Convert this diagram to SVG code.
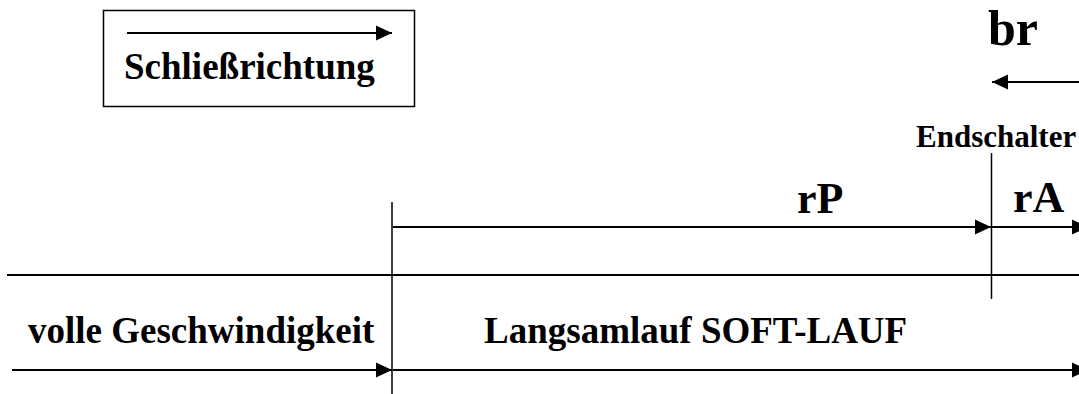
<svg xmlns="http://www.w3.org/2000/svg" width="1079" height="394" viewBox="0 0 1079 394">
<style>
.t{font-family:"Liberation Serif","Times New Roman",serif;font-weight:bold;fill:#000}
.ln{stroke:#000;stroke-width:2;fill:none}
.thin{stroke:#000;stroke-width:1.5;fill:none}
</style>
<defs>
<marker id="ah" markerUnits="userSpaceOnUse" markerWidth="16" markerHeight="16" refX="16" refY="8" orient="auto">
<path d="M0,0.5 L16,8 L0,15.5 Z" fill="#000"/>
</marker>
</defs>
<g id="legend">
<rect x="103.5" y="10.5" width="311" height="96" fill="none" stroke="#000" stroke-width="1.5"/>
<line class="ln" x1="127" y1="33" x2="392" y2="33" marker-end="url(#ah)"/>
<text class="t" x="124" y="79" font-size="37">Schließrichtung</text>
</g>
<g id="br">
<text class="t" x="988" y="45" font-size="50">br</text>
</g>
<g id="endschalter">
<text class="t" x="916" y="147" font-size="31">Endschalter</text>
</g>
<g id="rP">
<text class="t" x="797" y="213" font-size="44">rP</text>
</g>
<g id="rA">
<text class="t" x="1013" y="212" font-size="44">rA</text>
</g>
<g id="volle">
<text class="t" x="28" y="343" font-size="37">volle Geschwindigkeit</text>
</g>
<g id="langsam">
<text class="t" x="484" y="343" font-size="37">Langsamlauf SOFT-LAUF</text>
</g>
<g id="connectors">
<line class="ln" x1="1090" y1="82" x2="992" y2="82" marker-end="url(#ah)"/>
<line class="thin" x1="991.5" y1="153" x2="991.5" y2="299"/>
<line class="thin" x1="392" y1="202" x2="392" y2="394"/>
<line class="ln" x1="7" y1="275" x2="1079" y2="275"/>
<line class="ln" x1="393" y1="227" x2="991" y2="227" marker-end="url(#ah)"/>
<line class="ln" x1="992" y1="227" x2="1088" y2="227" marker-end="url(#ah)"/>
<line class="ln" x1="12" y1="370" x2="392" y2="370" marker-end="url(#ah)"/>
<line class="ln" x1="393" y1="370" x2="1088" y2="370" marker-end="url(#ah)"/>
</g>
</svg>
